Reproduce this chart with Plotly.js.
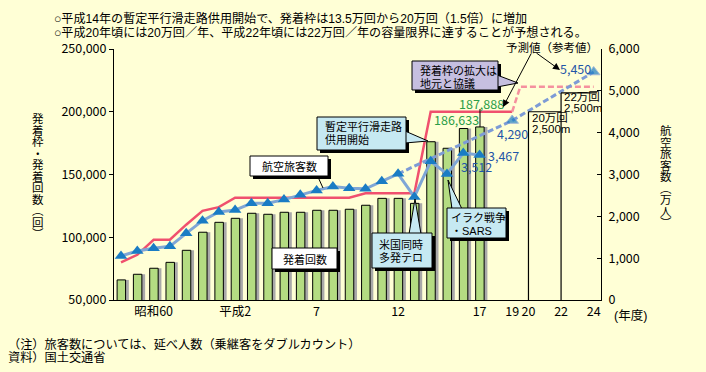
<!DOCTYPE html>
<html><head><meta charset="utf-8">
<script src="https://cdn.plot.ly/plotly-3.0.1.min.js"></script>
<style>html,body{margin:0;padding:0;background:#ffffd6}#chart{width:706px;height:372px}</style>
</head><body><div id="chart"></div>
<script>
// ---------- data (fiscal years; 昭和58 = 1983 ... 平成17 = 2005) ----------
const fiscalYears = [1983,1984,1985,1986,1987,1988,1989,1990,1991,1992,1993,1994,1995,1996,1997,1998,1999,2000,2001,2002,2003,2004,2005];
// 発着回数 (回)
const movements = [66000,70500,75300,80000,89600,104000,111900,115100,119100,118300,119900,119900,121500,121500,122300,125500,131000,131000,127000,176100,170900,186633,187888];
// 航空旅客数 (万人)
const passengers = [1052,1171,1235,1283,1594,1896,2104,2151,2311,2311,2400,2515,2620,2713,2673,2657,2840,3016,2463,3315,3012,3512,3467];
// 発着枠 (回)
const slotYears = [1983,1984,1985,1986,1987,1988,1989,1990,1991,1992,1993,1994,1995,1996,1997,1998,1999,2000,2001,2002,2003,2004,2005,2006,2007];
const slots = [80000,86000,98000,98000,110000,121000,124000,131500,131500,131500,131500,131500,131500,131500,131500,135000,135000,135000,135000,200000,200000,200000,200000,200000,200000];
// 予測値（参考値）
const slotForecastYears = [2007,2007.5,2012];
const slotForecast = [200000,220000,220000];
const paxForecastYears = [2000,2007,2012];
const paxForecast = [3016,4290,5450];
// 容量 (20万回 / 22万回)
const capacityYears = [2008,2010];
const capacity = [200000,215000];
// tick labels
const xTickVals = [1985,1990,1995,2000,2005,2007,2008,2010,2012];
const xTickText = ['昭和60','平成2','7','12','17','19','20','22','24'];

// ---------- layout helpers ----------
const FONT = '"Noto Sans CJK JP", "Noto Sans", sans-serif';
const FONT_TXT = '"Liberation Sans", "Noto Sans CJK JP", sans-serif';
const L = 114, R = 601, T = 49, B = 300;
const px = x => (x - L) / (R - L);
const py = y => (B - y) / (B - T);
const fmt = v => v.toLocaleString('en-US');

const traces = [
  {type:'bar', x:fiscalYears, y:movements, width:0.52, offset:-0.04, marker:{color:'#a9a9a9', line:{width:0}}, yaxis:'y', hoverinfo:'skip'},
  {type:'bar', x:fiscalYears, y:movements, width:0.52, offset:-0.24, marker:{color:'#b4dc82', line:{color:'#000', width:1}}, yaxis:'y', hoverinfo:'skip'},
  {type:'scatter', mode:'lines', x:slotYears, y:slots, line:{color:'#f0506e', width:2.5}, yaxis:'y', hoverinfo:'skip'},
  {type:'scatter', mode:'lines', x:slotForecastYears, y:slotForecast, line:{color:'#f5909e', width:2.5, dash:'6px,3px'}, yaxis:'y', hoverinfo:'skip'},
  {type:'scatter', mode:'lines+markers', x:paxForecastYears, y:paxForecast, line:{color:'#7d9bd6', width:3, dash:'6px,3px'},
    marker:{symbol:'triangle-up', size:[0,11,11], color:'#1a7cc4'}, yaxis:'y2', hoverinfo:'skip'},
  {type:'scatter', mode:'lines+markers', x:fiscalYears, y:passengers, line:{color:'#7fa6d6', width:3},
    marker:{symbol:'triangle-up', size:11, color:'#1a7cc4'}, yaxis:'y2', hoverinfo:'skip'}
];

const shapes = [];
const annotations = [];
function line(x0,y0,x1,y1,w){shapes.push({type:'line',xref:'paper',yref:'paper',x0:px(x0),y0:py(y0),x1:px(x1),y1:py(y1),line:{color:'#000',width:w||1},layer:'above'});}
function callout(x0,y0,x1,y1,fill,wedge){
  shapes.push({type:'rect',xref:'paper',yref:'paper',x0:px(x0+3),x1:px(x1+3),y0:py(y1+3),y1:py(y0+3),fillcolor:'#000',line:{width:0},layer:'above'});
  if(wedge){
    const p = wedge.map((q,i)=>(i?'L':'M')+px(q[0])+','+py(q[1])).join(' ')+' Z';
    shapes.push({type:'path',xref:'paper',yref:'paper',path:p,fillcolor:fill,line:{color:'#000',width:1},layer:'above'});
  }
  shapes.push({type:'rect',xref:'paper',yref:'paper',x0:px(x0),x1:px(x1),y0:py(y1),y1:py(y0),fillcolor:fill,line:{color:'#000',width:1},layer:'above'});
}
// lines: array of strings; y = centre of first line; step = line pitch in px
function txt(lines,x,y,opt){
  opt = opt || {};
  if(!Array.isArray(lines)) lines = [lines];
  const size = opt.size || 11;
  const step = opt.step || 13;
  const n = lines.length;
  const base = n > 1 ? step/1.3 : size;
  const text = n > 1 ? lines.map(l=>'<span style="font-size:'+size+'px">'+l+'</span>').join('<br>') : lines[0];
  annotations.push({xref:'paper',yref:'paper',x:px(x),y:py(y+(n-1)*step/2),text:text,showarrow:false,
    xanchor:opt.anchor||'left',yanchor:'middle',align:opt.anchor==='center'?'center':'left',borderpad:0,
    font:{family:(n > 1 || opt.latin) ? FONT_TXT : FONT,size:base,color:opt.color||'#000'}});
}

// capacity brackets (data coordinates)
capacityYears.forEach((yr,i)=>{
  shapes.push({type:'line',xref:'x',yref:'y',x0:yr,x1:yr,y0:50000,y1:capacity[i],line:{color:'#000',width:1.2}});
  shapes.push({type:'line',xref:'x',yref:'y',x0:yr,x1:yr+(i?2.2:2),y0:capacity[i],y1:capacity[i],line:{color:'#000',width:1.2}});
});
txt(['20万回','2,500m'],531,118,{size:11.5,step:11});
txt(['22万回','2,500m'],563,97,{size:11.5,step:11});

// callouts
callout(250,156,328,176,'#ffffff',null);
line(318,177,323,188);
txt('航空旅客数',289,166,{anchor:'center'});

callout(272,248,337,269,'#ffffff',null);
txt('発着回数',304.5,258.5,{anchor:'center'});

callout(317,117,406,150,'#c6e9f2',[[405,131],[428,141],[405,143]]);
txt(['暫定平行滑走路','供用開始'],324,127,{step:12.5});

callout(372,233,432,268,'#c6e9f2',[[409,234],[415,199],[421,234]]);
txt(['米国同時','多発テロ'],378,245,{step:13});

callout(447,208,506,238,'#c6e9f2',[[452,209],[448,180],[462,209]]);
txt(['イラク戦争','・SARS'],450,218,{step:12.5});

callout(412,61,498,90,'#c6bfe0',[[497,75],[518,83],[497,87]]);
txt(['発着枠の拡大は','地元と協議'],419,70,{step:13});

// value labels (from data)
const vl = {anchor:'center',size:12.5};
txt(fmt(movements[21]),456,120,Object.assign({color:'#2a9d48'},vl));
txt(fmt(movements[22]),481,103,Object.assign({color:'#2a9d48'},vl));
line(480,109,480,127);
txt(fmt(passengers[21]),476,166,Object.assign({color:'#1f56a8'},vl));
txt(fmt(passengers[22]),503,155,Object.assign({color:'#1f56a8'},vl));
txt(fmt(paxForecast[1]),512,133,Object.assign({color:'#1f56a8'},vl));
txt(fmt(paxForecast[2]),575,68,Object.assign({color:'#1f56a8'},vl));

// 予測値（参考値）
txt('予測値（参考値）',552,47,{anchor:'center',size:11.5});
annotations.push({xref:'paper',yref:'paper',x:px(503),y:py(107),ax:29,ay:-55,text:'',showarrow:true,arrowhead:2,arrowsize:1.4,arrowwidth:1,arrowcolor:'#000',standoff:0,startstandoff:0});
annotations.push({xref:'paper',yref:'paper',x:px(560),y:py(70),ax:-25,ay:-18,text:'',showarrow:true,arrowhead:2,arrowsize:1.4,arrowwidth:1,arrowcolor:'#000',standoff:0,startstandoff:0});

// header & notes
txt(['○平成14年の暫定平行滑走路供用開始で、発着枠は13.5万回から20万回（1.5倍）に増加',
     '○平成20年頃には20万回／年、平成22年頃には22万回／年の容量限界に達することが予想される。'],53,19,{size:12.1,step:13.5});
txt(['（注）旅客数については、延べ人数（乗継客をダブルカウント）','資料）国土交通省'],7,345,{size:12.2,step:12.5});
txt('(年度)',630,315,{anchor:'center',size:12.5,latin:true});

// vertical axis titles (upright characters, one per line)
txt(['発','着','枠','・','発','着','回','数','︵','回','︶'],38,118,{anchor:'center',size:11.5,step:11.5});
txt(['航','空','旅','客','数','︵','万','人','︶'],666,130,{anchor:'center',size:11.5,step:11.5});

const tickFont = {family:FONT,size:12.5,color:'#000'};
const layout = {
  width:706, height:372,
  margin:{l:L, r:706-R, t:T, b:372-B, pad:0},
  paper_bgcolor:'#ffffd6', plot_bgcolor:'#ffffd6',
  showlegend:false, barmode:'overlay', hovermode:false,
  xaxis:{range:[1982.57,2012.45], tickvals:xTickVals, ticktext:xTickText, tickangle:0, ticks:'',
    showline:true, linecolor:'#000', linewidth:1, showgrid:false, zeroline:false, tickfont:tickFont},
  yaxis:{range:[50000,250000], dtick:50000, tickformat:',d', ticks:'outside', ticklen:4, tickcolor:'#000',
    showline:true, linecolor:'#000', linewidth:1, showgrid:false, zeroline:false, tickfont:tickFont},
  yaxis2:{range:[0,6000], dtick:1000, tickformat:',d', overlaying:'y', side:'right', ticks:'inside', ticklen:4, tickcolor:'#000',
    showline:true, linecolor:'#000', linewidth:1, showgrid:false, zeroline:false, tickfont:tickFont, ticklabelstandoff:4},
  shapes:shapes, annotations:annotations
};
Plotly.newPlot('chart', traces, layout, {staticPlot:true, displayModeBar:false});
</script></body></html>
